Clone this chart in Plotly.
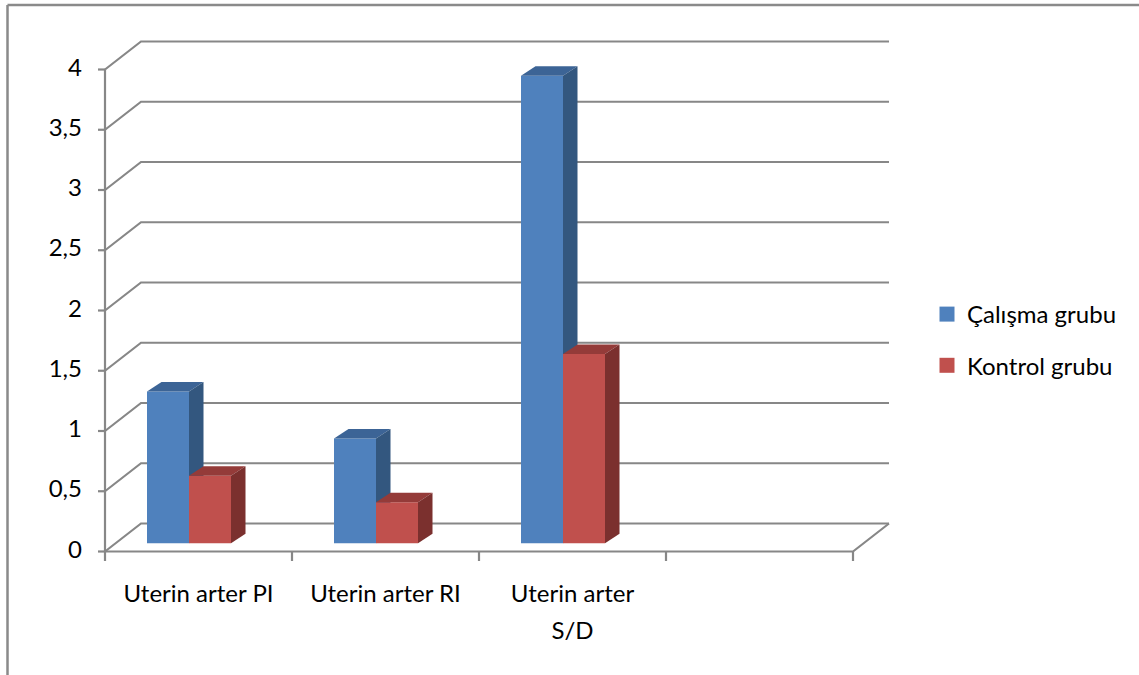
import plotly.graph_objects as go

# --- data ---------------------------------------------------------------
categories = ["Uterin arter PI", "Uterin arter RI", "Uterin arter\nS/D", ""]
series_names = ["Çalışma grubu", "Kontrol grubu"]
calisma = [1.26, 0.87, 3.88]
kontrol = [0.56, 0.34, 1.57]
y_ticks = [0, 0.5, 1, 1.5, 2, 2.5, 3, 3.5, 4]
y_tick_labels = ["0", "0,5", "1", "1,5", "2", "2,5", "3", "3,5", "4"]

# --- styling / projection ------------------------------------------------
W, H = 1139, 675
PX_X = 187.0      # pixels per category
PX_Y = 120.5      # pixels per value unit
X0_PX, Y0_PX = 105.0, 551.5   # front-left floor corner

WALL_DX = 36 / PX_X     # oblique depth of walls/floor
WALL_DY = 28 / PX_Y
BAR_FRONT_DY = 8.2 / PX_Y   # bars stand slightly back on the floor
BAR_DX = 14.5 / PX_X        # bar depth
BAR_DY = 9.5 / PX_Y
BAR_OFFSET = 42 / PX_X      # from category start to first bar
BAR_W = 42 / PX_X

FONT = "Lato"
FONT_SIZE = 24
GRID = "#878787"
COLORS = {
    "Çalışma grubu": ("#4F81BD", "#3C6496", "#33577F"),
    "Kontrol grubu": ("#C0504D", "#943B39", "#7B302E"),
}

fig = go.Figure()


def poly(xs, ys, color):
    fig.add_trace(go.Scatter(
        x=xs + [xs[0]], y=ys + [ys[0]], mode="lines", fill="toself",
        fillcolor=color, line=dict(width=0, color=color),
        hoverinfo="skip", showlegend=False))


# back wall gridlines + left wall diagonals
gx, gy = [], []
for v in y_ticks:
    gx += [0, WALL_DX, 4 + WALL_DX, None]
    gy += [v, v + WALL_DY, v + WALL_DY, None]
# floor front edge and right edge
gx += [0, 4, 4 + WALL_DX, None]
gy += [0, 0, WALL_DY, None]
# value axis line and its ticks
gx += [0, 0, None]
gy += [0, 4, None]
for v in y_ticks:
    gx += [-7 / PX_X, 0, None]
    gy += [v, v, None]
# category ticks
for i in range(len(categories) + 1):
    gx += [i, i, None]
    gy += [0, -9.5 / PX_Y, None]
fig.add_trace(go.Scatter(x=gx, y=gy, mode="lines",
                         line=dict(color=GRID, width=2.2),
                         hoverinfo="skip", showlegend=False))

# 3D columns: front, top and side faces
for i in range(len(calisma)):
    for k, (name, vals) in enumerate(zip(series_names, [calisma, kontrol])):
        front, top, side = COLORS[name]
        x0 = i + BAR_OFFSET + k * BAR_W
        x1 = x0 + BAR_W
        b = BAR_FRONT_DY
        t = vals[i] + BAR_FRONT_DY
        poly([x0, x1, x1, x0], [b, b, t, t], front)
        poly([x0, x1, x1 + BAR_DX, x0 + BAR_DX], [t, t, t + BAR_DY, t + BAR_DY], top)
        poly([x1, x1 + BAR_DX, x1 + BAR_DX, x1], [b, b + BAR_DY, t + BAR_DY, t], side)

# value tick labels
fig.add_trace(go.Scatter(
    x=[-23 / PX_X] * len(y_ticks), y=y_ticks, text=y_tick_labels,
    mode="text", textposition="middle left",
    textfont=dict(family=FONT, size=FONT_SIZE, color="#000000"),
    hoverinfo="skip", showlegend=False))

# category labels (one text per line)
lx, ly, lt = [], [], []
for i, c in enumerate(categories):
    for j, line in enumerate(c.split("\n")):
        if line:
            lx.append(i + 0.5)
            ly.append(-44.5 / PX_Y - j * 37 / PX_Y)
            lt.append(line)
fig.add_trace(go.Scatter(
    x=lx, y=ly, text=lt, mode="text", textposition="middle center",
    textfont=dict(family=FONT, size=FONT_SIZE, color="#000000"),
    hoverinfo="skip", showlegend=False))

# legend entries
for k, name in enumerate(series_names):
    fig.add_trace(go.Scatter(
        x=[None], y=[None], mode="markers", name=name, legendgroup=name,
        marker=dict(symbol="square", size=15, color=COLORS[name][0])))

fig.update_layout(
    width=W, height=H,
    margin=dict(l=0, r=0, t=0, b=0),
    paper_bgcolor="white", plot_bgcolor="white",
    xaxis=dict(visible=False, range=[-X0_PX / PX_X, (W - X0_PX) / PX_X], fixedrange=True),
    yaxis=dict(visible=False, range=[-(H - Y0_PX) / PX_Y, Y0_PX / PX_Y], fixedrange=True),
    legend=dict(x=927 / W, xanchor="left", y=1 - 340 / H, yanchor="middle",
                font=dict(family=FONT, size=FONT_SIZE, color="#000000"),
                tracegroupgap=17, bgcolor="rgba(0,0,0,0)"),
    showlegend=True,
    shapes=[
        dict(type="line", xref="paper", yref="paper",
             x0=7.5 / W, x1=7.5 / W, y0=1 - 5 / H, y1=-0.01,
             line=dict(color="#8a8a8a", width=2.5)),
        dict(type="line", xref="paper", yref="paper",
             x0=7.5 / W, x1=1.01, y0=1 - 5 / H, y1=1 - 5 / H,
             line=dict(color="#8a8a8a", width=2.5)),
    ],
)

fig.write_html("out.html")
